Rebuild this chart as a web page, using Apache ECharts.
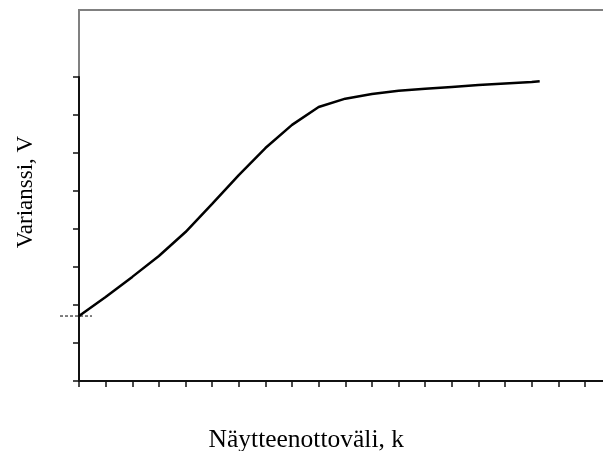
<!DOCTYPE html>
<html>
<head>
<meta charset="utf-8">
<script src="https://cdn.jsdelivr.net/npm/echarts@6/dist/echarts.min.js"></script>
<style>
  html, body { margin: 0; padding: 0; background: #fff; }
  #chart { width: 603px; height: 451px; }
</style>
</head>
<body>
<div id="chart"></div>
<script>
// Sampling interval k (axis units) and the variance V measured at each one
const kValues = [0, 1, 2, 3, 4, 5, 6, 7, 8, 9, 10, 11, 12, 13, 14, 15, 16, 17, 17.3];
const varianceValues = [1.71, 2.21, 2.74, 3.29, 3.92, 4.66, 5.42, 6.13, 6.74, 7.21, 7.43, 7.55, 7.64, 7.69, 7.74, 7.79, 7.83, 7.87, 7.89];

const xTitle = 'Näytteenottoväli, k';
const yTitle = 'Varianssi, V';
const serif = "'Liberation Serif', 'Times New Roman', serif";

const chart = echarts.init(document.getElementById('chart'), null, { renderer: 'canvas' });

const v0 = varianceValues[0];
const curve = kValues.map((k, i) => [k, varianceValues[i]]);
// short dashed mark at the starting variance, across the y axis
const refLine = [[0, v0], [1, v0]];

const noAxis = { show: false, min: 0, max: 1 };

chart.setOption({
  animation: false,
  backgroundColor: '#ffffff',
  grid: [
    // outer plot frame
    { left: 79, top: 10, width: 540, height: 371, outerBoundsMode: 'none',
      show: true, borderColor: '#808080', borderWidth: 2, backgroundColor: 'transparent' },
    // data area
    { left: 79, top: 77, width: 532.6, height: 304, outerBoundsMode: 'none' },
    // strip around the y axis that carries the dashed start mark
    { left: 60, top: 77, width: 32, height: 304, outerBoundsMode: 'none' }
  ],
  xAxis: [
    Object.assign({ gridIndex: 0, type: 'value' }, noAxis),
    {
      gridIndex: 1, type: 'value', min: 0, max: 20, interval: 1,
      axisLine: { show: true, onZero: false, lineStyle: { color: '#111', width: 2 } },
      axisTick: { show: true, length: 6, lineStyle: { color: '#111', width: 1.5 } },
      axisLabel: { show: false },
      splitLine: { show: false },
      name: xTitle, nameLocation: 'middle', nameGap: 46,
      nameTextStyle: { fontFamily: serif, fontSize: 25.5, color: '#000', padding: [0, 78, 0, 0] }
    },
    Object.assign({ gridIndex: 2, type: 'value' }, noAxis)
  ],
  yAxis: [
    Object.assign({ gridIndex: 0, type: 'value' }, noAxis),
    {
      gridIndex: 1, type: 'value', min: 0, max: 8, interval: 1,
      axisLine: { show: true, onZero: false, lineStyle: { color: '#111', width: 2 } },
      axisTick: { show: true, length: 6, lineStyle: { color: '#111', width: 1.5 } },
      axisLabel: { show: false },
      splitLine: { show: false },
      name: yTitle, nameLocation: 'middle', nameGap: 42, nameRotate: 90,
      nameTextStyle: { fontFamily: serif, fontSize: 23, color: '#000', padding: [0, 0, 0, 74] }
    },
    { gridIndex: 2, type: 'value', show: false, min: 0, max: 8 }
  ],
  series: [
    {
      type: 'line', xAxisIndex: 2, yAxisIndex: 2, data: refLine,
      symbol: 'none', silent: true, z: 1,
      lineStyle: { color: '#000', width: 1, type: [3, 2] }
    },
    {
      type: 'line', xAxisIndex: 1, yAxisIndex: 1, data: curve, clip: false,
      symbol: 'none', smooth: false, z: 3,
      lineStyle: { color: '#000', width: 2.5 }
    }
  ]
});
</script>
</body>
</html>
